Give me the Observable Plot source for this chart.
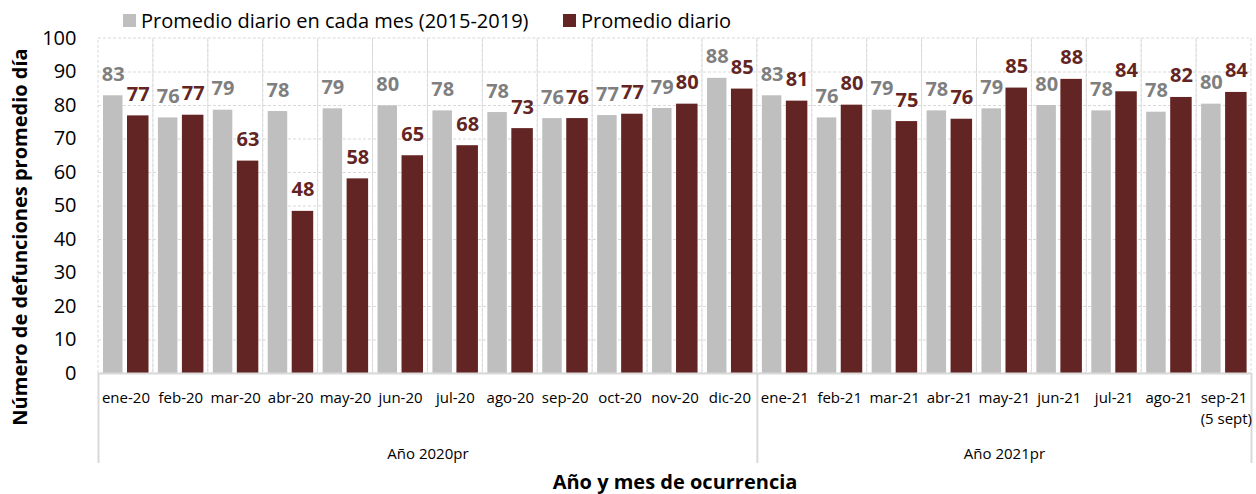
<!DOCTYPE html>
<html>
<head>
<meta charset="utf-8">
<script src="https://cdn.jsdelivr.net/npm/d3@7"></script>
<script src="https://cdn.jsdelivr.net/npm/@observablehq/plot@0.6"></script>
<style>
  html, body { margin: 0; padding: 0; background: #fff; }
  #wrap { width: 1256px; font-family: "Open Sans", sans-serif; }
  #legend { position: relative; z-index: 1; height: 20px; font-size: 20px; color: #000; }
  #legend .sw { position: absolute; top: 14px; width: 13px; height: 13px; }
  #legend .tx { position: absolute; top: 7px; line-height: 28px; white-space: nowrap; }
  svg { display: block; }
</style>
</head>
<body>
<div id="wrap">
  <div id="legend">
    <div class="sw" style="left:123px;background:#bfbfbf"></div>
    <div class="tx" id="lg1" style="left:141px"></div>
    <div class="sw" style="left:563px;background:#632523"></div>
    <div class="tx" id="lg2" style="left:581px"></div>
  </div>
  <div id="chart"></div>
</div>
<script>
// ---- data ----
const months = ["ene-20","feb-20","mar-20","abr-20","may-20","jun-20","jul-20","ago-20","sep-20","oct-20","nov-20","dic-20",
                "ene-21","feb-21","mar-21","abr-21","may-21","jun-21","jul-21","ago-21","sep-21"];
const hist = [82.9,76.3,78.6,78.2,79.0,79.9,78.4,77.9,76.1,77.0,79.1,88.1,
              82.9,76.3,78.6,78.4,79.0,80.0,78.4,78.0,80.4];
const cur  = [76.9,77.1,63.4,48.4,58.1,65.0,68.0,73.1,76.1,77.4,80.4,84.9,
              81.3,80.1,75.2,75.9,85.2,87.8,84.1,82.4,83.9];
const seriesNames = ["Promedio diario en cada mes (2015-2019)", "Promedio diario"];
const yTicks = [0,10,20,30,40,50,60,70,80,90,100];
const lastNote = "(5 sept)";
const groupLabels = ["Año 2020pr", "Año 2021pr"];
const groupStarts = ["ene-20", "ene-21"];
const yLabel = "Número de defunciones promedio día";
const xLabel = "Año y mes de ocurrencia";

const rows = months.map((m, i) => ({month: m, hist: hist[i], cur: cur[i]}));

document.getElementById("lg1").textContent = seriesNames[0];
document.getElementById("lg2").textContent = seriesNames[1];

// ---- layout ----
const W = 1256, H = 474, mL = 98, mR = 5, mT = 18, mB = 121;
const bw = (W - mL - mR) / months.length;
const grayL = 5, grayW = 19.5, darkL = 29, darkW = 21.5;
const grayC = grayL + grayW / 2 - bw / 2;
const darkC = darkL + darkW / 2 - bw / 2;
const fmt = d3.format(".0f");
const grid = "#d9d9d9";
const font = "Open Sans";

function centerOf(list) {
  const n = list.length;
  const mid = list[Math.floor((n - 1) / 2)];
  return {at: mid, dx: n % 2 === 0 ? bw / 2 : 0};
}
const c1 = centerOf(months.filter(m => m.endsWith("-20")));
const c2 = centerOf(months.filter(m => m.endsWith("-21")));

const chart = Plot.plot({
  width: W, height: H,
  marginLeft: mL, marginRight: mR, marginTop: mT, marginBottom: mB,
  style: {fontFamily: font, background: "transparent", color: "#000"},
  x: {domain: months, padding: 0, round: false, axis: null},
  y: {domain: [0, 100], axis: null},
  marks: [
    Plot.ruleY(yTicks.filter(t => t > 0 && t < 100), {stroke: grid, strokeDasharray: "3,2", strokeWidth: 1}),
    Plot.barY(months, {x: d => d, y1: 0, y2: 100, fill: "none", stroke: grid, strokeDasharray: "3,2", strokeWidth: 1}),
    Plot.barY(rows, {x: "month", y: "hist", fill: "#bfbfbf", insetLeft: grayL, insetRight: bw - grayL - grayW}),
    Plot.barY(rows, {x: "month", y: "cur", fill: "#632523", insetLeft: darkL, insetRight: bw - darkL - darkW}),
    Plot.ruleY([0], {stroke: grid, strokeWidth: 2}),
    Plot.ruleX(groupStarts, {x: d => d, y1: 0, y2: 0, dx: -bw / 2, insetBottom: -90, stroke: grid, strokeWidth: 2}),
    Plot.ruleX([months[months.length - 1]], {x: d => d, y1: 0, y2: 0, dx: bw / 2, insetBottom: -90, stroke: grid, strokeWidth: 2}),
    Plot.text(rows, {x: "month", y: "hist", text: d => fmt(d.hist), dx: grayC, dy: -15, lineAnchor: "bottom",
      fill: "#7f7f7f", fontSize: 20, fontWeight: "bold"}),
    Plot.text(rows, {x: "month", y: "cur", text: d => fmt(d.cur), dx: darkC, dy: -15, lineAnchor: "bottom",
      fill: "#632523", fontSize: 20, fontWeight: "bold"}),
    Plot.axisY({ticks: yTicks, tickSize: 0, tickPadding: 22, fontSize: 20, label: null, fill: "#000"}),
    Plot.text(months, {x: d => d, frameAnchor: "bottom", lineAnchor: "bottom", dy: 29, fontSize: 15, fill: "#000"}),
    Plot.text([lastNote], {x: [months[months.length - 1]], frameAnchor: "bottom", lineAnchor: "bottom", textAnchor: "end",
      dy: 50, dx: 28, fontSize: 15, fill: "#000"}),
    Plot.text([groupLabels[0]], {x: [c1.at], dx: c1.dx, frameAnchor: "bottom", lineAnchor: "bottom", dy: 85, fontSize: 15, fill: "#000"}),
    Plot.text([groupLabels[1]], {x: [c2.at], dx: c2.dx, frameAnchor: "bottom", lineAnchor: "bottom", dy: 85, fontSize: 15, fill: "#000"}),
    Plot.text([xLabel], {frameAnchor: "bottom", lineAnchor: "bottom", dy: 115, fontSize: 20, fontWeight: "bold", fill: "#000"}),
    Plot.text([yLabel], {frameAnchor: "left", textAnchor: "middle", rotate: -90, dx: -78, dy: 31, fontSize: 20, fontWeight: "bold", fill: "#000"})
  ]
});
document.getElementById("chart").appendChild(chart);
</script>
</body>
</html>
